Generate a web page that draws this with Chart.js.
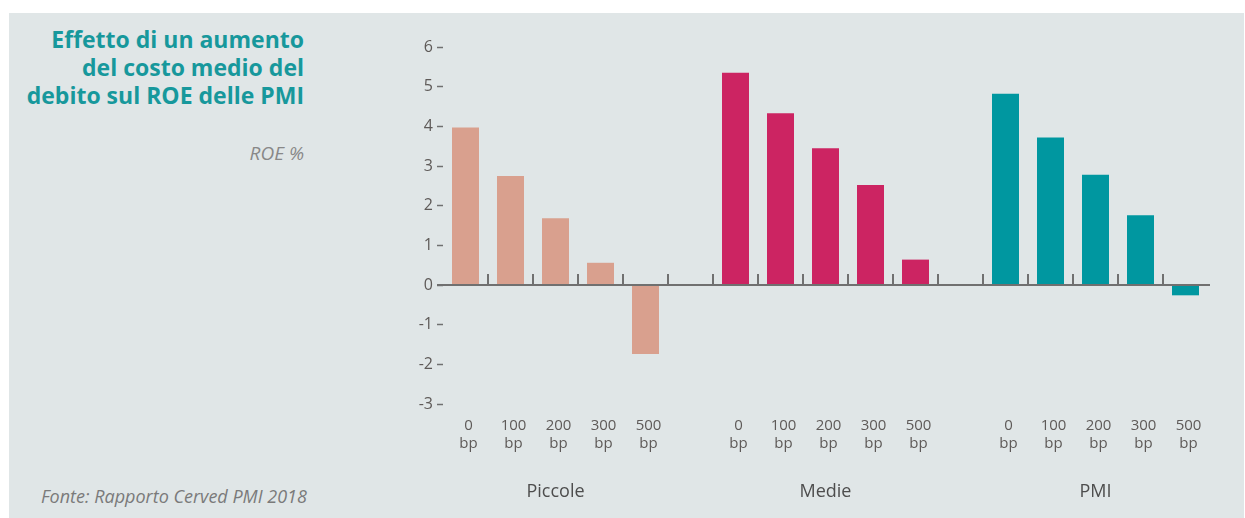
<!DOCTYPE html>
<html lang="it">
<head>
<meta charset="utf-8">
<title>Effetto di un aumento del costo medio del debito sul ROE delle PMI</title>
<script src="https://cdn.jsdelivr.net/npm/chart.js@4/dist/chart.umd.min.js"></script>
<style>
  html, body { margin: 0; padding: 0; background: #ffffff; }
  body { width: 1245px; height: 518px; position: relative; overflow: hidden; font-family: "Open Sans", sans-serif; }
  #pannello { position: absolute; left: 9px; top: 13px; right: 1px; bottom: 0; background: #e0e6e7; }
  #titolo { position: absolute; right: 941px; top: 25px; width: 320px; text-align: right;
            font-weight: 700; font-size: 23px; line-height: 28px; color: #17989c; }
  #unita { position: absolute; right: 941px; top: 142px; font-style: italic; font-size: 19px; line-height: 22px; color: #888; }
  #fonte { position: absolute; left: 41px; top: 485px; font-style: italic; font-size: 18px; line-height: 22px; color: #7a7a7a; }
  #box { position: absolute; left: 0; top: 0; width: 1245px; height: 518px; }
</style>
</head>
<body>
<div id="pannello"></div>
<div id="titolo">Effetto di un aumento<br>del costo medio del<br>debito sul ROE delle PMI</div>
<div id="unita">ROE %</div>
<div id="fonte">Fonte: Rapporto Cerved PMI 2018</div>
<div id="box"><canvas id="grafico" width="1245" height="518"></canvas></div>

<script>
// dati (ROE %)
const gruppi = ["Piccole", "Medie", "PMI"];
const aumenti = ["0", "100", "200", "300", "500"];
const piccole = [3.97, 2.75, 1.68, 0.56, -1.74];
const medie = [5.35, 4.33, 3.45, 2.52, 0.64];
const pmi = [4.82, 3.72, 2.78, 1.76, -0.26];
const colori = ["#d9a08e", "#cc2462", "#0097a0"];
const tickY = [-3, -2, -1, 0, 1, 2, 3, 4, 5, 6];

// categorie: 5 per gruppo + una vuota tra i gruppi
const etichette = [];
const serie = [piccole, medie, pmi];
const indiciGruppo = [];
gruppi.forEach((g, gi) => {
  const inizio = etichette.length;
  aumenti.forEach(a => etichette.push([a, "bp"]));
  indiciGruppo.push([inizio, etichette.length - 1]);
  if (gi < gruppi.length - 1) etichette.push("");
});

const datasets = gruppi.map((g, gi) => {
  const valori = etichette.map(() => null);
  const [inizio] = indiciGruppo[gi];
  serie[gi].forEach((v, i) => { valori[inizio + i] = v; });
  return {
    label: g,
    data: valori,
    backgroundColor: colori[gi],
    borderWidth: 0,
    barPercentage: 0.6,
    categoryPercentage: 1.0
  };
});

// linea dello zero con le tacche tra le categorie + nomi dei gruppi
const assePlugin = {
  id: "asseZero",
  afterDatasetsDraw(chart) {
    const ctx = chart.ctx;
    const x = chart.scales.x;
    const y = chart.scales.y;
    const y0 = y.getPixelForValue(0);
    const area = chart.chartArea;
    ctx.save();
    ctx.strokeStyle = "#707070";
    ctx.lineWidth = 2;
    ctx.beginPath();
    ctx.moveTo(area.left - 6, y0);
    ctx.lineTo(area.right + 2, y0);
    ctx.stroke();
    for (let i = 0; i < etichette.length - 1; i++) {
      const px = Math.round((x.getPixelForValue(i) + x.getPixelForValue(i + 1)) / 2);
      ctx.beginPath();
      ctx.moveTo(px, y0);
      ctx.lineTo(px, y0 - 11);
      ctx.stroke();
    }
    ctx.fillStyle = "#4d4d4d";
    ctx.font = "18px 'Open Sans'";
    ctx.textAlign = "center";
    ctx.textBaseline = "middle";
    gruppi.forEach((g, gi) => {
      const [a, b] = indiciGruppo[gi];
      const cx = (x.getPixelForValue(a) + x.getPixelForValue(b)) / 2;
      ctx.fillText(g, cx, 492);
    });
    ctx.restore();
  }
};

new Chart(document.getElementById("grafico"), {
  type: "bar",
  data: { labels: etichette, datasets: datasets },
  plugins: [assePlugin],
  options: {
    responsive: false,
    animation: false,
    layout: { padding: { left: 323, right: 37, top: 47, bottom: 0 } },
    plugins: { legend: { display: false }, tooltip: { enabled: false } },
    datasets: { bar: { grouped: false } },
    scales: {
      x: {
        grid: { display: false },
        border: { display: false },
        afterFit: s => { s.height = 114; },
        ticks: {
          color: "#5e5a58",
          font: { family: "Open Sans", size: 15, lineHeight: 1.2 },
          padding: 5,
          labelOffset: 3,
          maxRotation: 0,
          autoSkip: false
        }
      },
      y: {
        min: -3,
        max: 6,
        afterFit: s => { s.width = 120; },
        afterBuildTicks: s => { s.ticks = tickY.map(v => ({ value: v })); },
        grid: { drawOnChartArea: false, drawTicks: true, tickLength: 6, tickColor: "#707070", tickWidth: 1.5 },
        border: { display: false },
        ticks: {
          color: "#5e5a58",
          font: { family: "Open Sans", size: 16 },
          padding: 4
        }
      }
    }
  }
});
</script>
</body>
</html>
